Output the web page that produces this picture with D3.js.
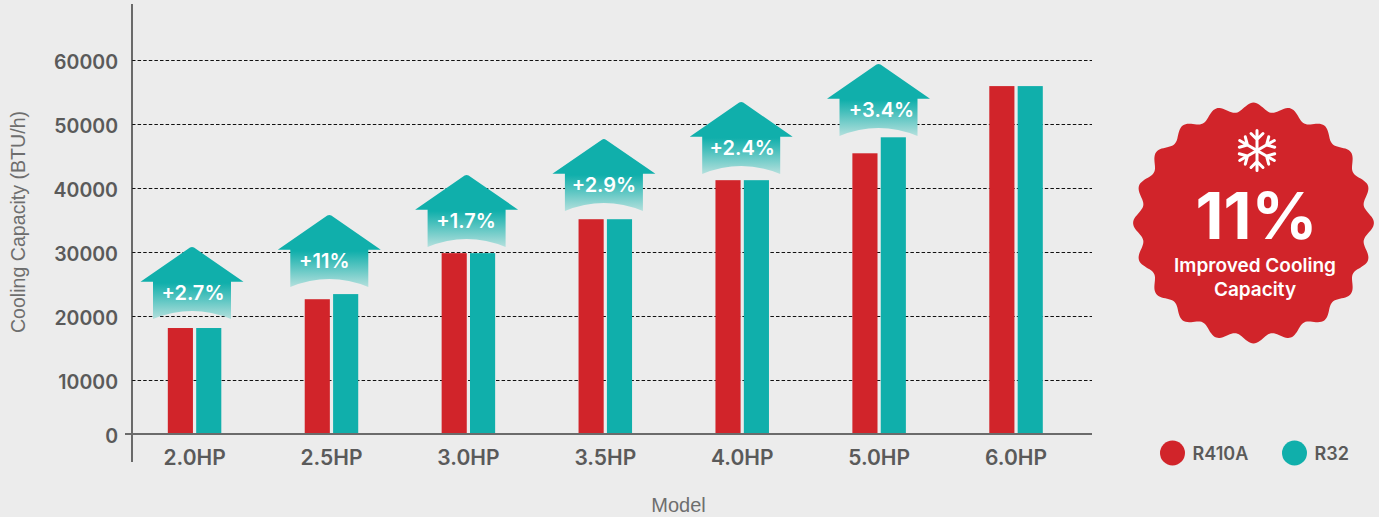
<!DOCTYPE html>
<html>
<head>
<meta charset="utf-8">
<script src="https://cdn.jsdelivr.net/npm/d3@7"></script>
<style>
html, body { margin: 0; padding: 0; background: #ececec; }
svg { display: block; font-family: Inter, "Noto Sans", sans-serif; }
</style>
</head>
<body>
<svg id="chart"></svg>
<script>
// data

var models = ["2.0HP", "2.5HP", "3.0HP", "3.5HP", "4.0HP", "5.0HP", "6.0HP"];
var r410a = [18200, 22700, 29900, 35200, 41300, 45500, 56000];
var r32 = [18200, 23500, 29900, 35200, 41300, 48000, 56000];
var seriesNames = ["R410A", "R32"];
var yTicks = [0, 10000, 20000, 30000, 40000, 50000, 60000];

// arrows only sit over the first six models
var upliftLabels = ["+2.7%", "+11%", "+1.7%", "+2.9%", "+2.4%", "+3.4%"];
var upliftTops = [30860, 35860, 42110, 47730, 53520, 59450];

var badgeValue = "11%";
var badgeLines = ["Improved Cooling", "Capacity"];

// settings

var svgWidth = 1379;
var svgHeight = 517;
var red = "#d1242a";
var teal = "#10afab";
var textGrey = "#5a5a5a";
var groupWidth = 53.5;

// the labels are not quite centred in their arrows
var labelNudge = [1, -5, -0.6, 0, 1, 3];

var svg = d3.select("#chart")
    .attr("width", svgWidth)
    .attr("height", svgHeight);

// scales. the picture squeezes 0-10000 a bit, so y has 3 stops

var y = d3.scaleLinear()
    .domain([0, 10000, 60000])
    .range([434, 380.5, 60.5]);

var x = d3.scaleBand()
    .domain(models)
    .range([126.1, 1084.5]);

var xSeries = d3.scaleBand()
    .domain(seriesNames)
    .range([0, groupWidth])
    .paddingInner(3.2 / 28);

var xArrow = d3.scalePoint()
    .domain(upliftLabels)
    .range([192, 878.5]);

var color = d3.scaleOrdinal()
    .domain(seriesNames)
    .range([red, teal]);

// gridlines. offset(0) keeps them on the pixel row

var grid = svg.append("g")
    .attr("transform", "translate(132,0)")
    .call(d3.axisLeft(y).offset(0).tickValues(yTicks.slice(1)).tickSize(-960).tickFormat(""));

grid.select(".domain").remove();
grid.selectAll("line")
    .attr("stroke", "#111")
    .attr("stroke-width", 1)
    .attr("stroke-dasharray", "3.5 2.1");

// bars

var rows = models.map(function(m, i) {
    return { model: m, values: [r410a[i], r32[i]] };
});

var groups = svg.selectAll(".model")
    .data(rows)
    .enter()
    .append("g")
    .attr("class", "model")
    .attr("transform", function(d) {
        return "translate(" + (x(d.model) + x.bandwidth() / 2 - groupWidth / 2) + ",0)";
    });

groups.selectAll("rect")
    .data(function(d) { return d.values; })
    .enter()
    .append("rect")
    .attr("x", function(d, i) { return xSeries(seriesNames[i]); })
    .attr("y", function(d) { return y(d); })
    .attr("width", xSeries.bandwidth())
    .attr("height", function(d) { return y(0) - y(d); })
    .attr("fill", function(d, i) { return color(seriesNames[i]); });

// y axis

var yAxis = svg.append("g")
    .attr("transform", "translate(132,0)")
    .call(d3.axisLeft(y).offset(0).tickValues(yTicks).tickSize(0).tickPadding(14).tickFormat(d3.format("d")));

yAxis.select(".domain").remove();
yAxis.selectAll("text")
    .attr("dy", "0.46em")
    .style("font-family", "Inter")
    .style("font-size", "19.5px")
    .style("font-weight", 600)
    .attr("fill", textGrey);

svg.append("line")
    .attr("x1", 132).attr("x2", 132)
    .attr("y1", 4).attr("y2", 462)
    .attr("stroke", "#333")
    .attr("stroke-width", 1.4);

// x axis

var xAxis = svg.append("g")
    .attr("transform", "translate(0," + y(0) + ")")
    .call(d3.axisBottom(x).offset(0).tickSize(0).tickPadding(16));

xAxis.select(".domain").remove();
xAxis.selectAll("text")
    .style("font-family", "Inter")
    .style("font-size", "21px")
    .style("font-weight", 600)
    .attr("fill", textGrey);

svg.append("line")
    .attr("x1", 125).attr("x2", 1092)
    .attr("y1", y(0)).attr("y2", y(0))
    .attr("stroke", "#6b6b6b")
    .attr("stroke-width", 2);

// axis titles

svg.append("text")
    .attr("transform", "translate(24.5,222) rotate(-90)")
    .attr("text-anchor", "middle")
    .style("font-family", "Liberation Sans")
    .style("font-size", "19.6px")
    .attr("fill", "#6e6e6e")
    .text("Cooling Capacity (BTU/h)");

svg.append("text")
    .attr("x", 678.5)
    .attr("y", 512)
    .attr("text-anchor", "middle")
    .style("font-family", "Liberation Sans")
    .style("font-size", "20px")
    .attr("fill", "#6e6e6e")
    .text("Model");

// uplift arrows

var gradient = svg.append("defs")
    .append("linearGradient")
    .attr("id", "arrowFade")
    .attr("x1", 0).attr("x2", 0)
    .attr("y1", 0).attr("y2", 1);

gradient.append("stop").attr("offset", "0.5").attr("stop-color", teal);
gradient.append("stop").attr("offset", "1").attr("stop-color", "#b4e0dd");

var arrowPath = "M-2,0.6 Q0,-0.6 2,0.6 L51.5,34.7 L39,34.7 L39,72 Q0,56 -39,72 L-39,34.7 L-51.5,34.7 Z";

var arrows = svg.selectAll(".arrow")
    .data(upliftLabels)
    .enter()
    .append("g")
    .attr("class", "arrow")
    .attr("transform", function(d, i) {
        return "translate(" + xArrow(d) + "," + y(upliftTops[i]) + ")";
    });

arrows.append("path")
    .attr("d", arrowPath)
    .attr("fill", "url(#arrowFade)");

arrows.append("text")
    .attr("x", function(d, i) { return labelNudge[i]; })
    .attr("y", 53)
    .attr("text-anchor", "middle")
    .style("font-size", "20px")
    .style("font-weight", 600)
    .attr("fill", "#fff")
    .text(function(d) { return d; });

// badge on the right

var badge = svg.append("g")
    .attr("transform", "translate(1253.5,223)");

var lobes = 20;
var badgeLine = d3.lineRadial()
    .angle(function(d) { return d; })
    .radius(function(d) { return 116 + 4.4 * Math.cos(lobes * d); })
    .curve(d3.curveCardinalClosed);

badge.append("path")
    .attr("d", badgeLine(d3.range(0, 2 * Math.PI, Math.PI / 120)))
    .attr("fill", red);

badge.append("text")
    .attr("x", 3)
    .attr("y", 16)
    .attr("text-anchor", "middle")
    .style("font-size", "65px")
    .style("font-weight", 700)
    .attr("fill", "#fff")
    .text(badgeValue);

badge.selectAll(".badge-line")
    .data(badgeLines)
    .enter()
    .append("text")
    .attr("class", "badge-line")
    .attr("x", 1.5)
    .attr("y", function(d, i) { return 48.5 + i * 24.5; })
    .attr("text-anchor", "middle")
    .style("font-size", "19px")
    .style("font-weight", 600)
    .attr("fill", "#fff")
    .text(function(d) { return d; });

// snowflake: 6 arms, each with 2 small branches

var flake = badge.append("g")
    .attr("transform", "translate(3.5,-72.5)")
    .attr("stroke", "#fff")
    .attr("stroke-width", 3)
    .attr("stroke-linecap", "round")
    .attr("fill", "none");

var arms = flake.selectAll("path")
    .data(d3.range(6))
    .enter()
    .append("path")
    .attr("transform", function(d) { return "rotate(" + d * 60 + ")"; })
    .attr("d", "M0,0 L0,-20 M-6,-17 L0,-11 L6,-17");

// legend

var legend = svg.selectAll(".legend")
    .data(seriesNames)
    .enter()
    .append("g")
    .attr("class", "legend")
    .attr("transform", function(d, i) {
        return "translate(" + (1172.5 + i * 122) + ",453)";
    });

legend.append("circle")
    .attr("r", 12.5)
    .attr("fill", function(d) { return color(d); });

legend.append("text")
    .attr("x", 20)
    .attr("y", 7)
    .style("font-size", "18px")
    .style("font-weight", 600)
    .attr("fill", textGrey)
    .text(function(d) { return d; });
</script>
</body>
</html>
